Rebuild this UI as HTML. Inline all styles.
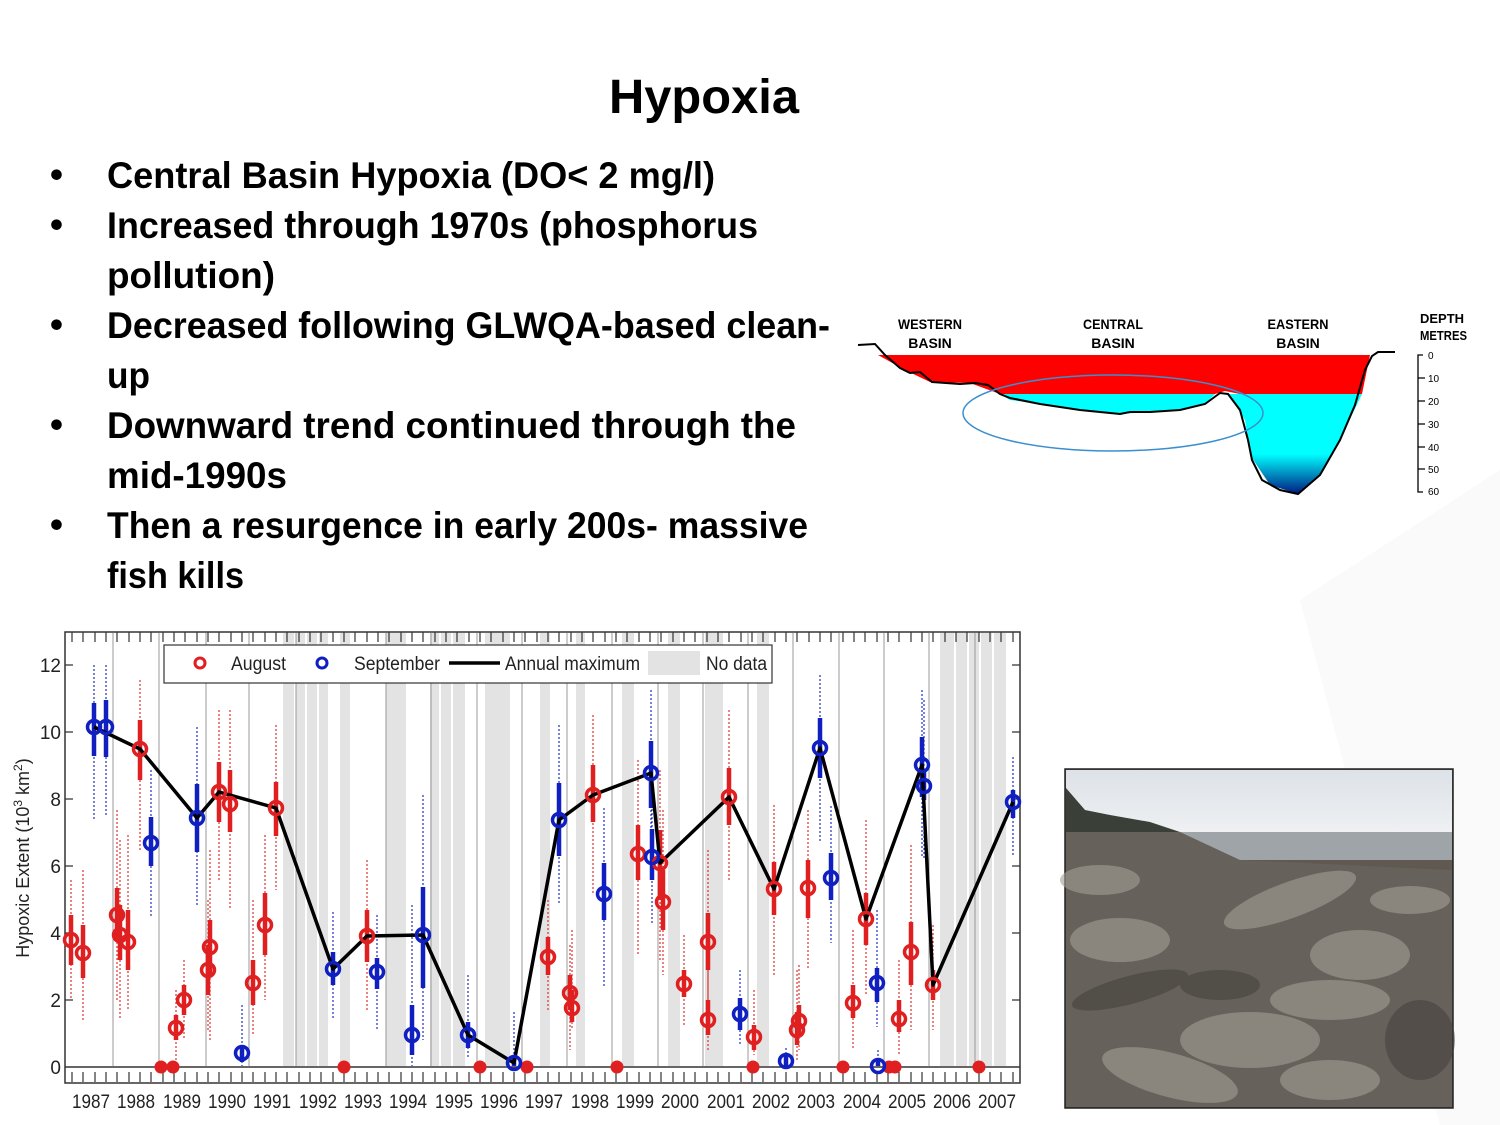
<!DOCTYPE html>
<html><head><meta charset="utf-8"><style>
html,body{margin:0;padding:0;background:#fff;}
svg{display:block;}
</style></head><body>
<svg width="1500" height="1125" viewBox="0 0 1500 1125" xmlns="http://www.w3.org/2000/svg" font-family="Liberation Sans, sans-serif">
<path d="M1300 600 L1500 470 L1500 1125 L1440 1125 Z" fill="#fafafa"/>
<text x="704" y="113" font-size="48" font-weight="bold" text-anchor="middle" textLength="190" lengthAdjust="spacingAndGlyphs">Hypoxia</text>
<g font-size="37" font-weight="bold" fill="#000">
<text x="50" y="187">•</text>
<text x="107" y="188" textLength="608" lengthAdjust="spacingAndGlyphs">Central Basin Hypoxia (DO&lt; 2 mg/l)</text>
<text x="50" y="237">•</text>
<text x="107" y="238" textLength="651" lengthAdjust="spacingAndGlyphs">Increased through 1970s (phosphorus</text>
<text x="107" y="288" textLength="168" lengthAdjust="spacingAndGlyphs">pollution)</text>
<text x="50" y="337">•</text>
<text x="107" y="338" textLength="723" lengthAdjust="spacingAndGlyphs">Decreased following GLWQA-based clean-</text>
<text x="107" y="388" textLength="43" lengthAdjust="spacingAndGlyphs">up</text>
<text x="50" y="437">•</text>
<text x="107" y="438" textLength="689" lengthAdjust="spacingAndGlyphs">Downward trend continued through the</text>
<text x="107" y="488" textLength="180" lengthAdjust="spacingAndGlyphs">mid-1990s</text>
<text x="50" y="537">•</text>
<text x="107" y="538" textLength="701" lengthAdjust="spacingAndGlyphs">Then a resurgence in early 200s- massive</text>
<text x="107" y="588" textLength="137" lengthAdjust="spacingAndGlyphs">fish kills</text>
</g>

<defs>
<linearGradient id="deep" x1="0" y1="0" x2="0" y2="1">
<stop offset="0" stop-color="#00ffff"/><stop offset="0.6" stop-color="#00ffff"/><stop offset="1" stop-color="#001a80"/>
</linearGradient>
<linearGradient id="sky" x1="0" y1="0" x2="0" y2="1">
<stop offset="0" stop-color="#dde2e8"/><stop offset="1" stop-color="#eef0f2"/>
</linearGradient>
<linearGradient id="ground" x1="0" y1="0" x2="0" y2="1">
<stop offset="0" stop-color="#6c6660"/><stop offset="0.3" stop-color="#5e5850"/><stop offset="0.7" stop-color="#6d6a62"/><stop offset="1" stop-color="#55524c"/>
</linearGradient>
</defs>
<g font-size="14" font-weight="bold" text-anchor="middle">
<text x="930" y="329" textLength="64" lengthAdjust="spacingAndGlyphs">WESTERN</text><text x="930" y="348">BASIN</text>
<text x="1113" y="329" textLength="60" lengthAdjust="spacingAndGlyphs">CENTRAL</text><text x="1113" y="348">BASIN</text>
<text x="1298" y="329" textLength="61" lengthAdjust="spacingAndGlyphs">EASTERN</text><text x="1298" y="348">BASIN</text>
<text x="1420" y="323" text-anchor="start" font-size="13">DEPTH</text>
<text x="1420" y="340" text-anchor="start" font-size="13" textLength="47" lengthAdjust="spacingAndGlyphs">METRES</text>
</g>
<path d="M878 355 L1370 355 L1362 394 L1240 394 L1225 391 L1215 394 L1000 394 L970 383 L930 382 L905 370 Z" fill="#ff0000"/>
<path d="M1000 394 L1215 394 L1205 404 L1180 410 L1150 412 L1120 414 L1080 410 L1040 404 L1010 400 Z" fill="#00ffff"/>
<path d="M1228 394 L1362 394 L1340 440 L1320 475 L1298 494 L1270 485 L1250 455 L1245 420 Z" fill="url(#deep)"/>
<path d="M858 345 L875 344 L885 355 L900 368 L910 373 L920 372 L932 382 L960 384 L975 383 L988 385 L1000 394 L1010 398 L1040 404 L1080 410 L1120 414 L1130 412 L1150 412 L1180 410 L1205 404 L1220 393 L1228 394 L1240 410 L1248 440 L1252 460 L1262 480 L1280 490 L1298 494 L1320 475 L1340 440 L1355 405 L1365 370 L1372 356 L1378 352 L1395 352" fill="none" stroke="#000" stroke-width="2"/>
<ellipse cx="1113" cy="413" rx="150" ry="38" fill="none" stroke="#3a8fcf" stroke-width="1.5"/>
<g stroke="#000" stroke-width="1.3" fill="none">
<path d="M1423 355 L1418 355 L1418 492 L1423 492"/>
<path d="M1418 378 H1425 M1418 401 H1425 M1418 424 H1425 M1418 447 H1425 M1418 469 H1425"/>
</g>
<g font-size="10" text-anchor="start">
<text x="1428" y="359">0</text><text x="1428" y="382">10</text><text x="1428" y="405">20</text><text x="1428" y="428">30</text><text x="1428" y="451">40</text><text x="1428" y="473">50</text><text x="1428" y="495">60</text>
</g>

<rect x="1065" y="769" width="388" height="339" fill="url(#ground)" stroke="#222" stroke-width="1.5"/>
<rect x="1066" y="770" width="386" height="62" fill="url(#sky)"/>
<path d="M1066 788 L1085 810 L1110 815 L1150 822 L1180 832 L1066 832 Z" fill="#3a4038"/>
<rect x="1180" y="832" width="272" height="28" fill="#9ea4a8"/>
<path d="M1066 832 L1180 832 L1240 860 L1452 870 L1452 1107 L1066 1107 Z" fill="#66615a"/>
<g fill="#a29e95" opacity="0.6">
<ellipse cx="1290" cy="900" rx="70" ry="18" transform="rotate(-20 1290 900)"/>
<ellipse cx="1360" cy="955" rx="50" ry="25"/>
<ellipse cx="1250" cy="1040" rx="70" ry="28"/>
<ellipse cx="1120" cy="940" rx="50" ry="22"/>
<ellipse cx="1170" cy="1075" rx="70" ry="22" transform="rotate(15 1170 1075)"/>
<ellipse cx="1410" cy="900" rx="40" ry="14"/>
<ellipse cx="1330" cy="1080" rx="50" ry="20"/>
<ellipse cx="1330" cy="1000" rx="60" ry="20"/>
<ellipse cx="1100" cy="880" rx="40" ry="15"/>
</g>
<g fill="#3f3c38" opacity="0.5">
<ellipse cx="1130" cy="990" rx="60" ry="14" transform="rotate(-15 1130 990)"/>
<ellipse cx="1420" cy="1040" rx="35" ry="40"/>
<ellipse cx="1220" cy="985" rx="40" ry="15"/>
</g>

<g>
<g fill="#e3e3e3">
<rect x="283" y="633" width="45" height="433"/>
<rect x="340" y="633" width="10" height="433"/>
<rect x="386" y="633" width="20" height="433"/>
<rect x="430" y="633" width="35" height="433"/>
<rect x="485" y="633" width="25" height="433"/>
<rect x="540" y="633" width="10" height="433"/>
<rect x="576" y="633" width="9" height="433"/>
<rect x="622" y="633" width="12" height="433"/>
<rect x="668" y="633" width="12" height="433"/>
<rect x="705" y="633" width="18" height="433"/>
<rect x="757" y="633" width="12" height="433"/>
<rect x="940" y="633" width="66" height="433"/>
</g>
<g stroke="#fff" stroke-width="2">
<path d="M295 633V1066M306 633V1066M318 633V1066M440 633V1066M452 633V1066M955 633V1066M968 633V1066M980 633V1066M993 633V1066"/>
</g>
<g stroke="#999" stroke-width="1">
<path d="M113 633V1066M159 633V1066M206 633V1066M249 633V1066M296 633V1066M386 633V1066M431 633V1066M477 633V1066M522 633V1066M567 633V1066M612 633V1066M658 633V1066M703 633V1066M748 633V1066M793 633V1066M839 633V1066M884 633V1066M929 633V1066M975 633V1066"/>
</g>
<rect x="65" y="632" width="955" height="451" fill="none" stroke="#333" stroke-width="1.5"/>
<line x1="65" y1="1067" x2="1020" y2="1067" stroke="#333" stroke-width="1.5"/>
<g stroke="#333" stroke-width="1.2" id="ticks">
<path d="M72 632v10M83 632v10M95 632v10M106 632v10M117 632v10M129 632v10M140 632v10M151 632v10M163 632v10M174 632v10M185 632v10M197 632v10M208 632v10M219 632v10M231 632v10M242 632v10M253 632v10M265 632v10M276 632v10M287 632v10M299 632v10M310 632v10M321 632v10M333 632v10M344 632v10M355 632v10M367 632v10M378 632v10M389 632v10M401 632v10M412 632v10M423 632v10M435 632v10M446 632v10M457 632v10M469 632v10M480 632v10M491 632v10M503 632v10M514 632v10M525 632v10M537 632v10M548 632v10M559 632v10M571 632v10M582 632v10M593 632v10M605 632v10M616 632v10M627 632v10M639 632v10M650 632v10M661 632v10M673 632v10M684 632v10M695 632v10M707 632v10M718 632v10M729 632v10M741 632v10M752 632v10M763 632v10M775 632v10M786 632v10M797 632v10M809 632v10M820 632v10M831 632v10M843 632v10M854 632v10M865 632v10M877 632v10M888 632v10M899 632v10M911 632v10M922 632v10M933 632v10M945 632v10M956 632v10M967 632v10M979 632v10M990 632v10M1001 632v10M1013 632v10"/>
</g>
<use href="#ticks" transform="translate(0,440)"/>
<g stroke="#333" stroke-width="1.2">
<path d="M65 665h8M65 732h8M65 799h8M65 866h8M65 933h8M65 1000h8M1020 665h-8M1020 732h-8M1020 799h-8M1020 866h-8M1020 933h-8M1020 1000h-8"/>
</g>
<g font-size="19" fill="#222" text-anchor="end">
<text x="61" y="672">12</text><text x="61" y="739">10</text><text x="61" y="806">8</text><text x="61" y="873">6</text><text x="61" y="940">4</text><text x="61" y="1007">2</text><text x="61" y="1074">0</text>
</g>
<text transform="translate(29 858) rotate(-90)" font-size="18" fill="#222" text-anchor="middle">Hypoxic Extent (10<tspan dy="-7" font-size="12">3</tspan><tspan dy="7"> km</tspan><tspan dy="-7" font-size="12">2</tspan><tspan dy="7">)</tspan></text>
<g font-size="19" fill="#222" text-anchor="middle">
<text x="91" y="1108" textLength="38" lengthAdjust="spacingAndGlyphs">1987</text><text x="136" y="1108" textLength="38" lengthAdjust="spacingAndGlyphs">1988</text><text x="182" y="1108" textLength="38" lengthAdjust="spacingAndGlyphs">1989</text><text x="227" y="1108" textLength="38" lengthAdjust="spacingAndGlyphs">1990</text><text x="272" y="1108" textLength="38" lengthAdjust="spacingAndGlyphs">1991</text><text x="318" y="1108" textLength="38" lengthAdjust="spacingAndGlyphs">1992</text><text x="363" y="1108" textLength="38" lengthAdjust="spacingAndGlyphs">1993</text><text x="408" y="1108" textLength="38" lengthAdjust="spacingAndGlyphs">1994</text><text x="454" y="1108" textLength="38" lengthAdjust="spacingAndGlyphs">1995</text><text x="499" y="1108" textLength="38" lengthAdjust="spacingAndGlyphs">1996</text><text x="544" y="1108" textLength="38" lengthAdjust="spacingAndGlyphs">1997</text><text x="590" y="1108" textLength="38" lengthAdjust="spacingAndGlyphs">1998</text><text x="635" y="1108" textLength="38" lengthAdjust="spacingAndGlyphs">1999</text><text x="680" y="1108" textLength="38" lengthAdjust="spacingAndGlyphs">2000</text><text x="726" y="1108" textLength="38" lengthAdjust="spacingAndGlyphs">2001</text><text x="771" y="1108" textLength="38" lengthAdjust="spacingAndGlyphs">2002</text><text x="816" y="1108" textLength="38" lengthAdjust="spacingAndGlyphs">2003</text><text x="862" y="1108" textLength="38" lengthAdjust="spacingAndGlyphs">2004</text><text x="907" y="1108" textLength="38" lengthAdjust="spacingAndGlyphs">2005</text><text x="952" y="1108" textLength="38" lengthAdjust="spacingAndGlyphs">2006</text><text x="997" y="1108" textLength="38" lengthAdjust="spacingAndGlyphs">2007</text>
</g>

<g stroke="#e03030" stroke-width="1.2" stroke-dasharray="2,2">
<path d="M71 880V1000M83 870V1020M117 810V1000M120 840V1020M128 835V1010M140 680V850M176 990V1060M184 960V1040M208 900V1030M210 850V1040M219 710V880M230 710V910M253 900V1035M265 835V1000M276 725V890M367 860V1010M548 900V1010M570 945V1050M572 930V1030M593 715V895M638 760V955M660 770V960M663 810V975M684 935V1025M708 960V1050M708 850V1000M729 710V880M754 990V1055M774 805V975M797 970V1060M799 965V1050M808 810V970M853 930V1050M866 820V995M899 960V1055M911 845V1030M933 925V1030"/>
</g>
<g stroke="#e02020" stroke-width="4.5">
<path d="M71 915V965M83 925V978M117 888V940M120 905V960M128 910V970M140 720V780M176 1015V1040M184 985V1015M208 945V995M210 920V975M219 762V822M230 770V832M253 960V1005M265 893V955M276 782V836M367 910V962M548 937V975M570 975V1010M572 990V1022M593 765V822M638 825V880M660 830V900M663 870V930M684 970V997M708 1000V1035M708 913V970M729 768V825M754 1025V1050M774 862V915M797 1012V1045M799 1005V1035M808 860V918M853 985V1018M866 893V945M899 1000V1032M911 922V985M933 970V1000"/>
</g>
<g stroke="#2030c0" stroke-width="1.2" stroke-dasharray="2,2">
<path d="M94 665V820M106 665V817M151 770V917M197 727V905M242 1005V1066M333 912V1020M377 915V1030M412 905V1066M423 795V1040M468 975V1058M514 1012V1066M559 725V903M604 808V987M651 690V880M652 805V925M740 970V1045M786 1048V1066M820 675V843M831 806V943M877 910V1027M878 1050V1066M922 690V858M924 700V860M1013 757V855"/>
</g>
<g stroke="#1020c0" stroke-width="4.5">
<path d="M94 703V756M106 700V757M151 817V866M197 784V852M242 1045V1062M333 952V985M377 958V989M412 1005V1055M423 887V988M468 1022V1048M514 1058V1066M559 783V856M604 863V920M651 741V808M652 829V880M740 998V1030M786 1054V1066M820 718V778M831 853V900M877 968V1002M878 1058V1066M922 737V797M924 770V800M1013 790V818"/>
</g>

<polyline points="94,727 140,749 197,818 219,792 276,808 333,969 367,936 423,935 468,1035 514,1063 559,820 593,795 651,773 660,863 729,797 774,889 820,748 866,919 922,765 933,985 1013,802" fill="none" stroke="#000" stroke-width="3.5" stroke-linejoin="round"/>

<g fill="none" stroke="#e02020" stroke-width="3.5">
<circle cx="71" cy="940" r="6.5"/><circle cx="83" cy="953" r="6.5"/><circle cx="117" cy="915" r="6.5"/><circle cx="120" cy="935" r="6.5"/><circle cx="128" cy="942" r="6.5"/><circle cx="140" cy="749" r="6.5"/><circle cx="176" cy="1028" r="6.5"/><circle cx="184" cy="1000" r="6.5"/><circle cx="208" cy="970" r="6.5"/><circle cx="210" cy="947" r="6.5"/><circle cx="219" cy="792" r="6.5"/><circle cx="230" cy="804" r="6.5"/><circle cx="253" cy="983" r="6.5"/><circle cx="265" cy="925" r="6.5"/><circle cx="276" cy="808" r="6.5"/><circle cx="367" cy="936" r="6.5"/><circle cx="548" cy="957" r="6.5"/><circle cx="570" cy="993" r="6.5"/><circle cx="572" cy="1008" r="6.5"/><circle cx="593" cy="795" r="6.5"/><circle cx="638" cy="854" r="6.5"/><circle cx="660" cy="863" r="6.5"/><circle cx="663" cy="902" r="6.5"/><circle cx="684" cy="984" r="6.5"/><circle cx="708" cy="1020" r="6.5"/><circle cx="708" cy="942" r="6.5"/><circle cx="729" cy="797" r="6.5"/><circle cx="754" cy="1037" r="6.5"/><circle cx="774" cy="889" r="6.5"/><circle cx="797" cy="1030" r="6.5"/><circle cx="799" cy="1021" r="6.5"/><circle cx="808" cy="888" r="6.5"/><circle cx="853" cy="1003" r="6.5"/><circle cx="866" cy="919" r="6.5"/><circle cx="899" cy="1019" r="6.5"/><circle cx="911" cy="952" r="6.5"/><circle cx="933" cy="985" r="6.5"/>
</g>
<g fill="#e02020">
<circle cx="161" cy="1067" r="6.5"/><circle cx="173" cy="1067" r="6.5"/><circle cx="344" cy="1067" r="6.5"/><circle cx="480" cy="1067" r="6.5"/><circle cx="527" cy="1067" r="6.5"/><circle cx="617" cy="1067" r="6.5"/><circle cx="753" cy="1067" r="6.5"/><circle cx="843" cy="1067" r="6.5"/><circle cx="889" cy="1067" r="6.5"/><circle cx="895" cy="1067" r="6.5"/><circle cx="979" cy="1067" r="6.5"/>
</g>
<g fill="none" stroke="#1020c0" stroke-width="3.5">
<circle cx="94" cy="727" r="6.5"/><circle cx="106" cy="727" r="6.5"/><circle cx="151" cy="843" r="6.5"/><circle cx="197" cy="818" r="6.5"/><circle cx="242" cy="1053" r="6.5"/><circle cx="333" cy="969" r="6.5"/><circle cx="377" cy="972" r="6.5"/><circle cx="412" cy="1035" r="6.5"/><circle cx="423" cy="935" r="6.5"/><circle cx="468" cy="1035" r="6.5"/><circle cx="514" cy="1063" r="6.5"/><circle cx="559" cy="820" r="6.5"/><circle cx="604" cy="894" r="6.5"/><circle cx="651" cy="773" r="6.5"/><circle cx="652" cy="857" r="6.5"/><circle cx="740" cy="1014" r="6.5"/><circle cx="786" cy="1061" r="6.5"/><circle cx="820" cy="748" r="6.5"/><circle cx="831" cy="878" r="6.5"/><circle cx="877" cy="983" r="6.5"/><circle cx="878" cy="1066" r="6.5"/><circle cx="922" cy="765" r="6.5"/><circle cx="924" cy="786" r="6.5"/><circle cx="1013" cy="802" r="6.5"/>
</g>

<rect x="164" y="645" width="608" height="38" fill="#fff" stroke="#333" stroke-width="1.2"/>
<circle cx="200" cy="663" r="5" fill="none" stroke="#e02020" stroke-width="3"/>
<text x="231" y="670" font-size="19" fill="#222" textLength="55" lengthAdjust="spacingAndGlyphs">August</text>
<circle cx="322" cy="663" r="5" fill="none" stroke="#1020c0" stroke-width="3"/>
<text x="354" y="670" font-size="19" fill="#222" textLength="86" lengthAdjust="spacingAndGlyphs">September</text>
<line x1="449" y1="663" x2="500" y2="663" stroke="#000" stroke-width="3.5"/>
<text x="505" y="670" font-size="19" fill="#222" textLength="135" lengthAdjust="spacingAndGlyphs">Annual maximum</text>
<rect x="648" y="651" width="52" height="24" fill="#e3e3e3"/>
<text x="706" y="670" font-size="19" fill="#222" textLength="61" lengthAdjust="spacingAndGlyphs">No data</text>
</g>
</svg>
</body></html>
